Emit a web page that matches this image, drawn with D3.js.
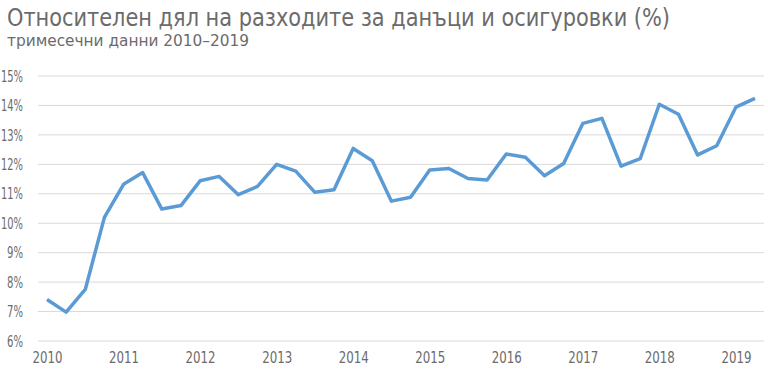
<!DOCTYPE html>
<html>
<head>
<meta charset="utf-8">
<script src="https://cdn.jsdelivr.net/npm/d3@7"></script>
<style>
  body { margin: 0; background: #fff; }
  text { font-family: "DejaVu Sans Condensed", "DejaVu Sans", sans-serif; }
</style>
</head>
<body>
<div id="chart"></div>
<script>
const years = [2010, 2011, 2012, 2013, 2014, 2015, 2016, 2017, 2018, 2019]
const yTicks = [6, 7, 8, 9, 10, 11, 12, 13, 14, 15]
// quarterly values, 2010 Q1 .. 2019 Q2
const values = [
  7.41, 6.98, 7.75, 10.2,
  11.32, 11.72, 10.48, 10.6,
  11.44, 11.59, 10.97, 11.25,
  12.0, 11.77, 11.05, 11.14,
  12.54, 12.12, 10.75, 10.88,
  11.81, 11.86, 11.52, 11.47,
  12.35, 12.24, 11.61, 12.03,
  13.39, 13.56, 11.94, 12.19,
  14.04, 13.70, 12.32, 12.63,
  13.94, 14.24
]

const data = values.map((v, i) => ({t: 2010 + i / 4, v: v}))

const width = 768, height = 384
const margin = ({top: 76, right: 4, bottom: 43, left: 38})

const svg = d3.select("#chart").append("svg")
    .attr("width", width)
    .attr("height", height)

svg.append("text")
    .attr("x", 7)
    .attr("y", 26)
    .attr("fill", "#6b6b6b")
    .attr("textLength", 663)
    .attr("lengthAdjust", "spacingAndGlyphs")
    .style("font-size", "24px")
    .text("Относителен дял на разходите за данъци и осигуровки (%)")

svg.append("text")
    .attr("x", 7)
    .attr("y", 46)
    .attr("fill", "#6b6b6b")
    .attr("textLength", 242)
    .attr("lengthAdjust", "spacingAndGlyphs")
    .style("font-size", "16px")
    .text("тримесечни данни 2010–2019")

const xScale = d3.scaleLinear()
    .domain([2010, 2019.25])
    .range([47, 755])

const yScale = d3.scaleLinear()
    .domain([6, 15])
    .range([height - margin.bottom, margin.top])

// gridlines
svg.append("g")
    .selectAll("line")
    .data(yTicks)
    .join("line")
    .attr("x1", margin.left)
    .attr("x2", width - margin.right)
    .attr("y1", d => yScale(d))
    .attr("y2", d => yScale(d))
    .attr("stroke", "#d9d9d9")
    .attr("stroke-width", 1)

const yAxis = d3.axisLeft(yScale)
    .tickValues(yTicks)
    .tickSize(0)
    .tickPadding(0)
    .tickFormat(d => d + "%")

// the labels are squeezed a little, as in the narrow font of the original
svg.append("g")
    .attr("class", "axis y-axis")
    .attr("transform", "translate(23,0)")
    .call(yAxis)
    .call(g => g.select(".domain").remove())
    .selectAll("text")
    .attr("fill", "#6b6b6b")
    .attr("textLength", d => d < 10 ? 16 : 22)
    .attr("lengthAdjust", "spacingAndGlyphs")
    .style("font-size", "16px")

const xAxis = d3.axisBottom(xScale)
    .tickValues(years)
    .tickSize(0)
    .tickPadding(0)
    .tickFormat(d3.format("d"))

svg.append("g")
    .attr("class", "axis x-axis")
    .attr("transform", `translate(0, ${height - 32})`)
    .call(xAxis)
    .call(g => g.select(".domain").remove())
    .selectAll("text")
    .attr("fill", "#6b6b6b")
    .attr("textLength", 30)
    .attr("lengthAdjust", "spacingAndGlyphs")
    .style("font-size", "16px")

const line = d3.line()
    .x(d => xScale(d.t))
    .y(d => yScale(d.v))

svg.append("path")
    .datum(data)
    .attr("fill", "none")
    .attr("stroke", "#5b9bd5")
    .attr("stroke-width", 3.5)
    .attr("stroke-linejoin", "round")
    .attr("d", line)
</script>
</body>
</html>
